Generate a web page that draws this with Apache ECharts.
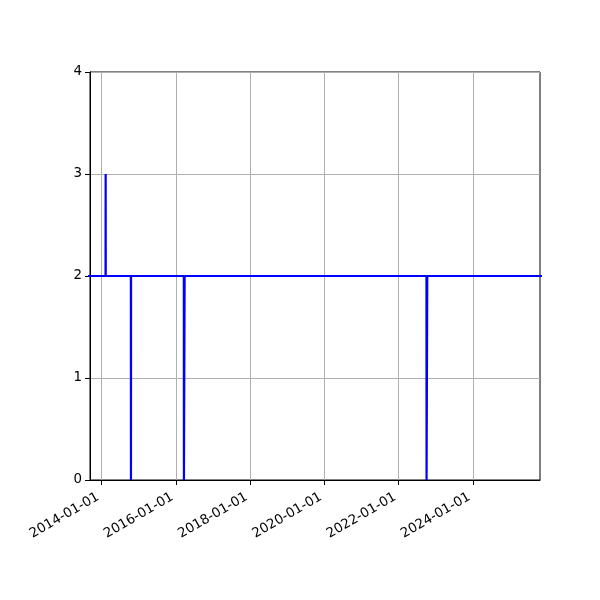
<!DOCTYPE html>
<html>
<head>
<meta charset="utf-8">
<script src="https://cdn.jsdelivr.net/npm/echarts@6/dist/echarts.min.js"></script>
<style>html,body{margin:0;padding:0;background:#fff}#c{width:600px;height:600px}</style>
</head>
<body>
<div id="c"></div>
<script>
// Data
const dates = ['2013-01-01','2014-02-08','2014-02-09','2014-02-10','2014-10-15','2014-10-16','2014-10-17',
  '2016-03-19','2016-03-20','2016-03-26','2016-03-27','2022-10-01','2022-10-02','2022-10-08','2022-10-09','2026-12-31'];
const values = [2,2,3,2,2,0,2,2,0,0,2,2,0,0,2,2];
const xTickLabels = ['2014-01-01','2016-01-01','2018-01-01','2020-01-01','2022-01-01','2024-01-01'];
const yTicks = [0,1,2,3,4];
const xRange = ['2013-09-08','2025-10-22'];

const P = s => +echarts.number.parseDate(s);
const pad = n => (n<10?'0':'')+n;
const fmt = v => { const d = new Date(v); return d.getFullYear()+'-'+pad(d.getMonth()+1)+'-'+pad(d.getDate()); };
const xTickVals = xTickLabels.map(P);

const chart = echarts.init(document.getElementById('c'), null, {renderer:'canvas'});
chart.setOption({
  animation:false,
  grid:{left:90,right:60,top:72,bottom:120,show:true,borderColor:'#000',borderWidth:1,backgroundColor:'transparent'},
  xAxis:{
    type:'value', min:P(xRange[0]), max:P(xRange[1]), scale:true,
    axisLine:{show:true,lineStyle:{color:'#000',width:1}},
    axisTick:{show:true,length:5,inside:false,lineStyle:{color:'#000'},customValues:xTickVals},
    axisLabel:{customValues:xTickVals,formatter:fmt,rotate:30,color:'#000',fontFamily:'DejaVu Sans',fontSize:13.4,margin:14,padding:[0,4,0,0],hideOverlap:false,showMinLabel:true,showMaxLabel:true},
    splitLine:{show:true,lineStyle:{color:'#b0b0b0',width:1}}
  },
  yAxis:{
    type:'value', min:yTicks[0], max:yTicks[yTicks.length-1], interval:1,
    axisLine:{show:true,lineStyle:{color:'#000',width:1}},
    axisTick:{show:true,length:5,lineStyle:{color:'#000'}},
    axisLabel:{color:'#000',fontFamily:'DejaVu Sans',fontSize:13.4,margin:8},
    splitLine:{show:true,lineStyle:{color:'#b0b0b0',width:1}}
  },
  series:[{
    type:'line',
    data:dates.map((d,i)=>[P(d),values[i]]),
    showSymbol:false, symbol:'none', clip:true,
    lineStyle:{color:'#0000ff',width:2.2},
    itemStyle:{color:'#0000ff'}
  }]
});
</script>
</body>
</html>
